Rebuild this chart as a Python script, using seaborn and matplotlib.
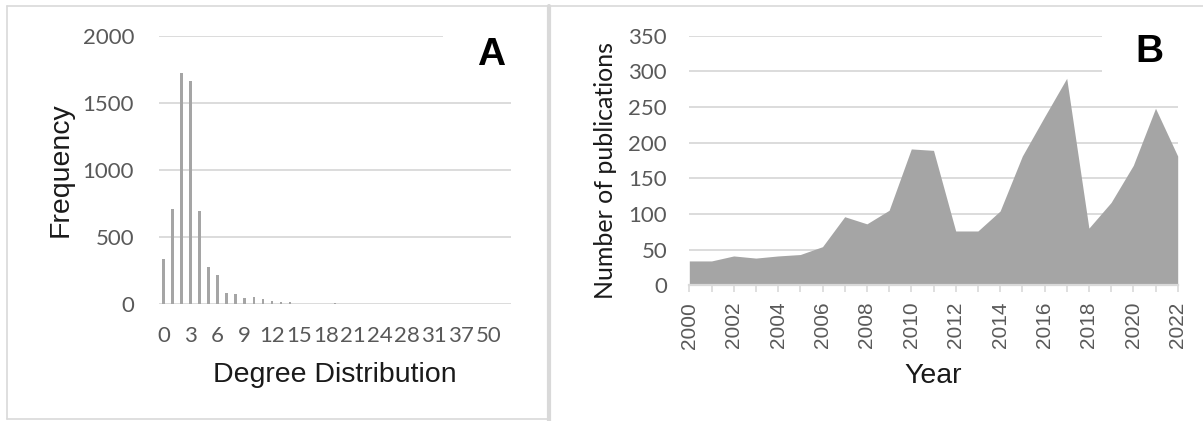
import matplotlib
matplotlib.use("Agg")
import matplotlib.pyplot as plt
from matplotlib.patches import Rectangle
from matplotlib.lines import Line2D
import numpy as np
import pandas as pd
import seaborn as sns

# ---- Degree distribution (panel A) ----
degree = [0, 1, 2, 3, 4, 5, 6, 7, 8, 9, 10, 11, 12, 13, 14, 15, 16, 17, 18, 19,
          20, 21, 22, 23, 24, 25, 26, 28, 29, 30, 31, 32, 34, 37, 40, 45, 50, 57, 67]
frequency = [335, 705, 1720, 1663, 690, 278, 213, 84, 74, 45, 54, 37, 20, 17, 17, 3, 2, 2, 3, 9,
             2, 1, 2, 1, 1, 2, 1, 1, 1, 1, 1, 1, 1, 1, 1, 1, 1, 1, 1]

# ---- Publications per year (panel B) ----
years = list(range(2000, 2023))
publications = [34, 34, 41, 38, 41, 43, 54, 96, 86, 105, 191, 189, 76, 76, 104, 181,
                236, 290, 80, 116, 168, 248, 181]

sns.set_theme(style="whitegrid")
plt.rcParams["font.family"] = ["Liberation Sans", "DejaVu Sans"]

W, H = 1203, 421
fig = plt.figure(figsize=(W / 100, H / 100), dpi=100)

GRID = "#d9d9d9"
TICK = "#595959"
FILL = "#a5a5a5"
TITLE = "#1a1a1a"

def px_rect(l, r, top, bottom):
    return [l / W, 1 - bottom / H, (r - l) / W, (bottom - top) / H]

# ---------------- Panel A ----------------
axA = fig.add_axes(px_rect(159, 511, 35.7, 304))
dfA = pd.DataFrame({"degree": [str(d) for d in degree], "frequency": frequency})
sns.barplot(data=dfA, x="degree", y="frequency", color=FILL, saturation=1,
            width=0.28, linewidth=0, ax=axA, zorder=2)
axA.set_ylim(0, 2000)
axA.set_xlim(-0.5, len(degree) - 0.5)
axA.set_yticks([0, 500, 1000, 1500, 2000])
axA.set_xticks(range(len(degree)))
axA.set_xticklabels([str(d) if i % 3 == 0 else "" for i, d in enumerate(degree)])
axA.grid(axis="y", color=GRID, linewidth=1.3)
axA.grid(axis="x", visible=False)
for s in axA.spines.values():
    s.set_visible(False)
axA.tick_params(axis="y", length=0, pad=18, labelcolor=TICK)
axA.tick_params(axis="x", length=0, pad=16, labelcolor=TICK)
for lab in axA.get_xticklabels() + axA.get_yticklabels():
    lab.set_family(["Lato", "DejaVu Sans"])
    lab.set_fontsize(16)
axA.set_xlabel("Degree Distribution", fontsize=20.5, color=TITLE)
axA.set_ylabel("Frequency", fontsize=20.5, color=TITLE)
axA.xaxis.set_label_coords(0.5, -0.265)
axA.xaxis.label.set_verticalalignment("center")
axA.yaxis.set_label_coords(-0.279, 0.5)
axA.yaxis.label.set_verticalalignment("center")
axA.add_patch(Rectangle((0.8075, 0.975), 0.25, 0.06, transform=axA.transAxes,
                        facecolor="white", edgecolor="none", zorder=1, clip_on=False))
axA.text(0.944, 0.8908, "A", transform=axA.transAxes, ha="center", va="baseline",
         fontsize=28, fontweight="bold", color="black", zorder=5)

# ---------------- Panel B ----------------
axB = fig.add_axes(px_rect(689.3, 1177.7, 35.5, 285.2))
dfB = pd.DataFrame({"year": years, "publications": publications})
sns.lineplot(data=dfB, x="year", y="publications", color=FILL, linewidth=0, ax=axB)
axB.fill_between(dfB["year"], 0, dfB["publications"], color=FILL, linewidth=0, zorder=2)
axB.set_xlim(2000, 2022)
axB.set_ylim(0, 350)
axB.set_yticks(range(0, 351, 50))
axB.set_xticks(years)
axB.set_xticklabels([str(y) if y % 2 == 0 else "" for y in years], rotation=90)
axB.grid(axis="y", color=GRID, linewidth=1.3)
axB.grid(axis="x", visible=False)
for name, s in axB.spines.items():
    s.set_visible(name == "bottom")
axB.spines["bottom"].set_color(GRID)
axB.spines["bottom"].set_linewidth(1.6)
axB.spines["bottom"].set_zorder(3)
axB.tick_params(axis="y", length=0, pad=16, labelcolor=TICK)
axB.tick_params(axis="x", length=5, width=1.2, color=GRID, pad=7, labelcolor=TICK,
                bottom=True, direction="out")
for lab in axB.get_yticklabels():
    lab.set_family(["Lato", "DejaVu Sans"])
    lab.set_fontsize(16)
for lab in axB.get_xticklabels():
    lab.set_fontsize(15)
axB.set_xlabel("Year", fontsize=20.5, color=TITLE)
axB.set_ylabel("Number of publications", fontsize=18, color=TITLE,
               family=["Lato", "DejaVu Sans"])
axB.xaxis.set_label_coords(0.5, -0.364)
axB.xaxis.label.set_verticalalignment("center")
axB.yaxis.set_label_coords(-0.1706, 0.461)
axB.yaxis.label.set_verticalalignment("center")
axB.add_patch(Rectangle((0.8444, 0.83), 0.2, 0.2, transform=axB.transAxes,
                        facecolor="white", edgecolor="none", zorder=1, clip_on=False))
axB.text(0.9423, 0.8939, "B", transform=axB.transAxes, ha="center", va="baseline",
         fontsize=28, fontweight="bold", color="black", zorder=5)

# ---------------- Panel frames ----------------
def fline(x0, y0, x1, y1, lw):
    fig.add_artist(Line2D([x0 / W, x1 / W], [1 - y0 / H, 1 - y1 / H],
                          transform=fig.transFigure, color=GRID, linewidth=lw))

fline(7.3, 6, 549, 6, 1.2)
fline(7.3, 6, 7.3, 419, 1.2)
fline(7.3, 419, 549, 419, 1.2)
fline(549, 6, 549, 421, 3.0)
fline(549, 6, 1203, 6, 1.2)

fig.savefig("out.png", dpi=100, facecolor="white")
